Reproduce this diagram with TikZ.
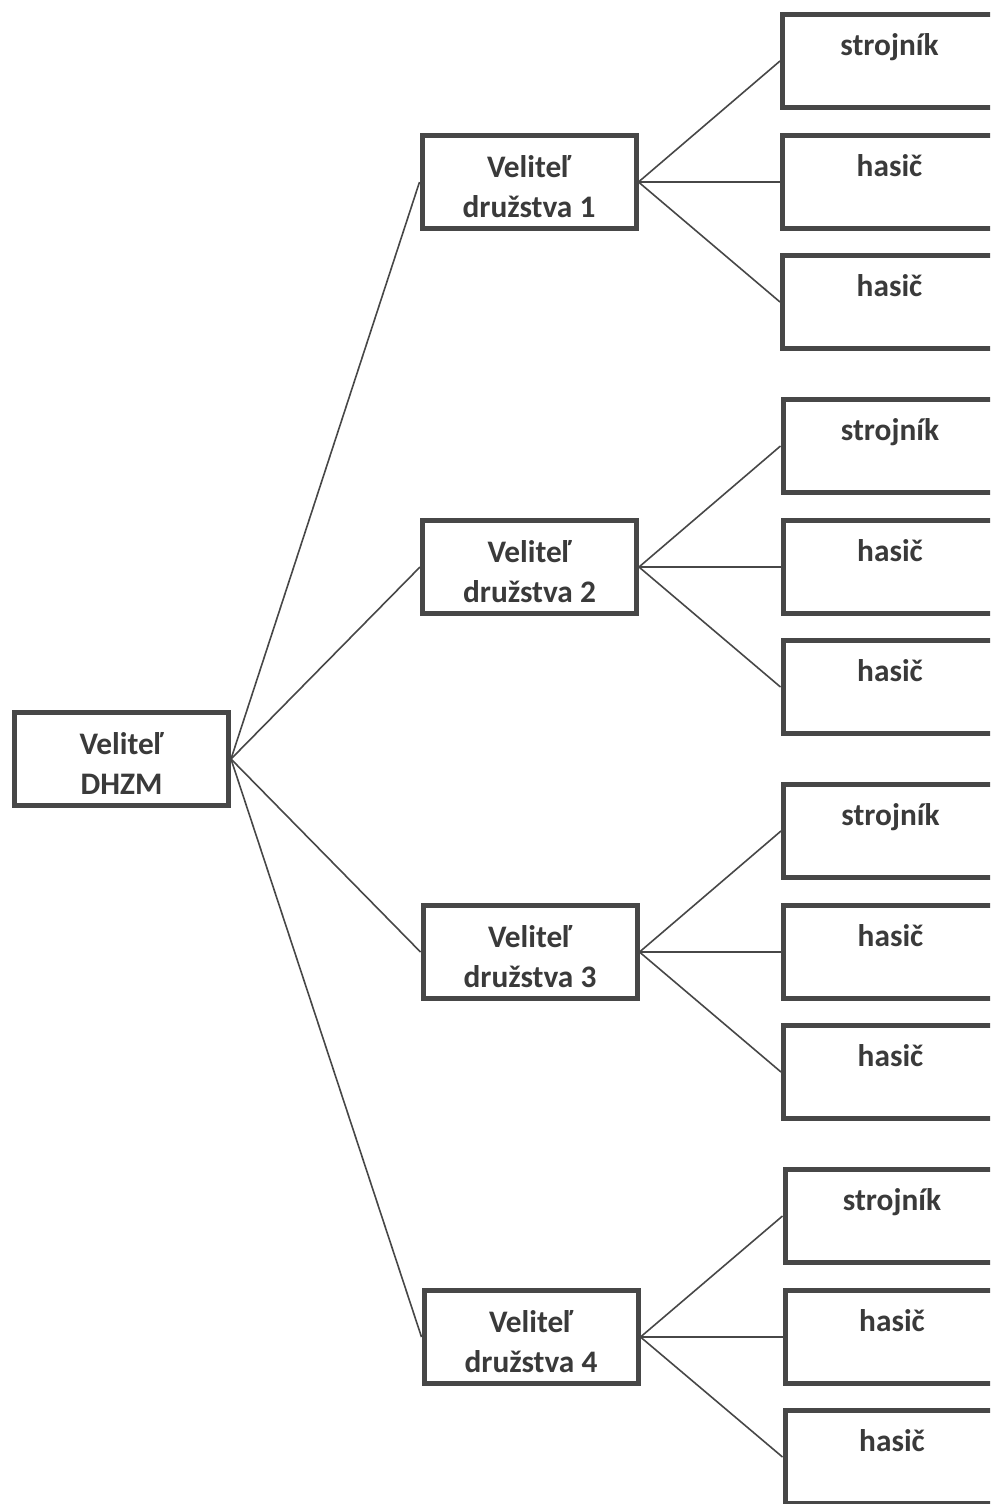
\documentclass[tikz,border=0pt]{standalone}
\usepackage{fontspec}
\setmainfont{Carlito}
\definecolor{bord}{HTML}{474747}
\definecolor{txt}{HTML}{3A3A3A}
\begin{document}
\begin{tikzpicture}[x=0.75pt,y=-0.75pt,
  box/.style={draw=bord,line width=3.75pt,minimum width=160.5pt,minimum height=69.75pt,inner sep=0pt,fill=white},
  lbl/.style={text=txt,font=\bfseries\fontsize{23.5pt}{28pt}\selectfont,inner sep=0pt,anchor=base},
  link/.style={draw=bord,line width=1.2pt}]
\useasboundingbox (0,0) rectangle (990,1504);
\fill[white] (0,0) rectangle (990,1504);
\clip (0,0) rectangle (990,1504);

% root
\node[box] (root) at (121.5,759) {};
\node[lbl] (rootA) at (121.5,754) {Veliteľ};
\node[lbl] (rootB) at (121.5,794) {DHZM};

% squads
\foreach \g/\mx/\my/\rx in {1/529/182/889.5, 2/529.5/567/890, 3/530/952/890.5, 4/531/1337/892}{
  \node[box] (m\g) at (\mx,\my) {};
  \node[lbl] (m\g a) at (\mx,\my-5) {Veliteľ};
  \node[lbl] (m\g b) at (\mx,\my+35) {družstva \g};
  \node[box] (s\g) at (\rx,\my-121) {};
  \node[lbl] (s\g t) at (\rx,\my-127) {strojník};
  \node[box] (h\g) at (\rx,\my) {};
  \node[lbl] (h\g t) at (\rx,\my-6) {hasič};
  \node[box] (k\g) at (\rx,\my+120) {};
  \node[lbl] (k\g t) at (\rx,\my+114) {hasič};
  \draw[link] (root.east) -- (m\g.west);
  \draw[link] (m\g.east) -- (s\g.west);
  \draw[link] (m\g.east) -- (h\g.west);
  \draw[link] (m\g.east) -- (k\g.west);
}
\end{tikzpicture}
\end{document}
